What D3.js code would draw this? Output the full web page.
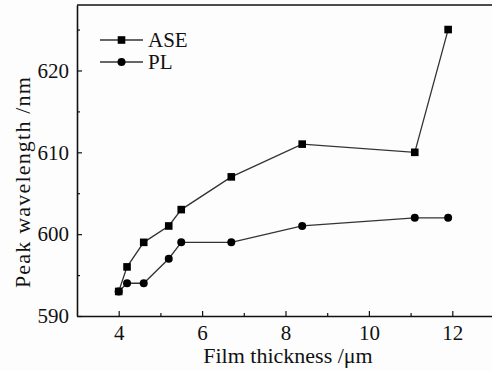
<!DOCTYPE html>
<html lang="en">
  <head>
    <meta charset="UTF-8">
    <script src="https://d3js.org/d3.v7.min.js"></script>
    <title>Peak wavelength vs film thickness</title>
    <style>
      html, body {
        margin: 0;
        padding: 0;
        background: #fdfdfd;
      }
      svg {
        display: block;
        font-family: "Liberation Serif", "Times New Roman", serif;
      }
    </style>
  </head>
  <body>
    <div id="chart"></div>
    <script>
      // thickness (um) and peak wavelength (nm)
      const aseThickness = [4.0, 4.2, 4.6, 5.2, 5.5, 6.7, 8.4, 11.1, 11.9];
      const aseWavelength = [593, 596, 599, 601, 603, 607, 611, 610, 625];
      const plThickness = [4.0, 4.2, 4.6, 5.2, 5.5, 6.7, 8.4, 11.1, 11.9];
      const plWavelength = [593, 594, 594, 597, 599, 599, 601, 602, 602];
      const xTicks = [4, 6, 8, 10, 12];
      const yTicks = [590, 600, 610, 620];
      const seriesNames = ['ASE', 'PL'];

      const width = 492;
      const height = 371;
      const margin = { top: 5, right: -2, bottom: 55, left: 77 };

      const svg = d3.select('#chart')
        .append('svg')
        .attr('width', width)
        .attr('height', height);

      const x = d3.scaleLinear()
        .domain([3, 13])
        .range([margin.left, width - margin.right]);

      const y = d3.scaleLinear()
        .domain([590, 628])
        .range([height - margin.bottom, margin.top]);

      const ink = '#111';

      // top frame line
      svg.append('line')
        .attr('x1', margin.left).attr('x2', width)
        .attr('y1', margin.top).attr('y2', margin.top)
        .attr('stroke', ink).attr('stroke-width', 1.6);

      // x axis, ticks inside
      const xAxis = svg.append('g')
        .attr('transform', `translate(0,${y(590)})`);
      xAxis.call(d3.axisBottom(x).tickValues(xTicks).tickSize(-5).tickSizeOuter(0).tickPadding(9).tickFormat(d3.format('d')));
      xAxis.append('g')
        .call(d3.axisBottom(x).tickValues([5, 7, 9, 11]).tickSize(-3).tickSizeOuter(0).tickFormat(''))
        .select('.domain').remove();

      // y axis, ticks inside
      const yAxis = svg.append('g')
        .attr('transform', `translate(${margin.left},0)`);
      yAxis.call(d3.axisLeft(y).tickValues(yTicks).tickSize(-5).tickSizeOuter(0).tickPadding(8).tickFormat(d3.format('d')));
      yAxis.append('g')
        .call(d3.axisLeft(y).tickValues([595, 605, 615, 625]).tickSize(-3).tickSizeOuter(0).tickFormat(''))
        .select('.domain').remove();

      svg.selectAll('.domain').attr('stroke', ink).attr('stroke-width', 1.6);
      svg.selectAll('.tick line').attr('stroke', ink).attr('stroke-width', 1.2);
      svg.selectAll('.tick text')
        .attr('fill', ink)
        .attr('font-size', 21)
        .attr('font-family', '"Liberation Serif", serif');
      xAxis.selectAll('.tick text').attr('dy', '0.71em');

      // axis titles
      svg.append('text')
        .attr('x', 288)
        .attr('y', 363)
        .attr('text-anchor', 'middle')
        .attr('font-size', 22)
        .attr('fill', ink)
        .text('Film thickness /\u03bcm');

      svg.append('text')
        .attr('transform', `translate(30,182) rotate(-90)`)
        .attr('text-anchor', 'middle')
        .attr('font-size', 22)
        .attr('letter-spacing', 1.2)
        .attr('fill', ink)
        .text('Peak wavelength /nm');

      const line = d3.line()
        .x(d => x(d[0]))
        .y(d => y(d[1]));

      const plData = d3.zip(plThickness, plWavelength);
      const aseData = d3.zip(aseThickness, aseWavelength);

      // PL first, ASE squares drawn over shared first point
      svg.append('path')
        .datum(plData)
        .attr('d', line)
        .attr('fill', 'none')
        .attr('stroke', '#333')
        .attr('stroke-width', 1.3);
      svg.selectAll('.pl-dot')
        .data(plData)
        .enter()
        .append('circle')
        .attr('class', 'pl-dot')
        .attr('cx', d => x(d[0]))
        .attr('cy', d => y(d[1]))
        .attr('r', 4)
        .attr('fill', '#000');

      svg.append('path')
        .datum(aseData)
        .attr('d', line)
        .attr('fill', 'none')
        .attr('stroke', '#333')
        .attr('stroke-width', 1.3);
      svg.selectAll('.ase-dot')
        .data(aseData)
        .enter()
        .append('rect')
        .attr('class', 'ase-dot')
        .attr('x', d => x(d[0]) - 3.8)
        .attr('y', d => y(d[1]) - 3.8)
        .attr('width', 7.6)
        .attr('height', 7.6)
        .attr('fill', '#000');

      // legend
      const legend = svg.append('g');
      seriesNames.forEach((name, i) => {
        const cy = 40 + i * 22;
        legend.append('line')
          .attr('x1', 100).attr('x2', 143)
          .attr('y1', cy).attr('y2', cy)
          .attr('stroke', '#333').attr('stroke-width', 1.3);
        if (i === 0) {
          legend.append('rect')
            .attr('x', 121.5 - 3.8).attr('y', cy - 3.8)
            .attr('width', 7.6).attr('height', 7.6)
            .attr('fill', '#000');
        } else {
          legend.append('circle')
            .attr('cx', 121.5).attr('cy', cy).attr('r', 4)
            .attr('fill', '#000');
        }
        legend.append('text')
          .attr('x', 148)
          .attr('y', cy)
          .attr('dy', '0.35em')
          .attr('font-size', 21)
          .attr('fill', ink)
          .text(name);
      });
    </script>
  </body>
</html>
